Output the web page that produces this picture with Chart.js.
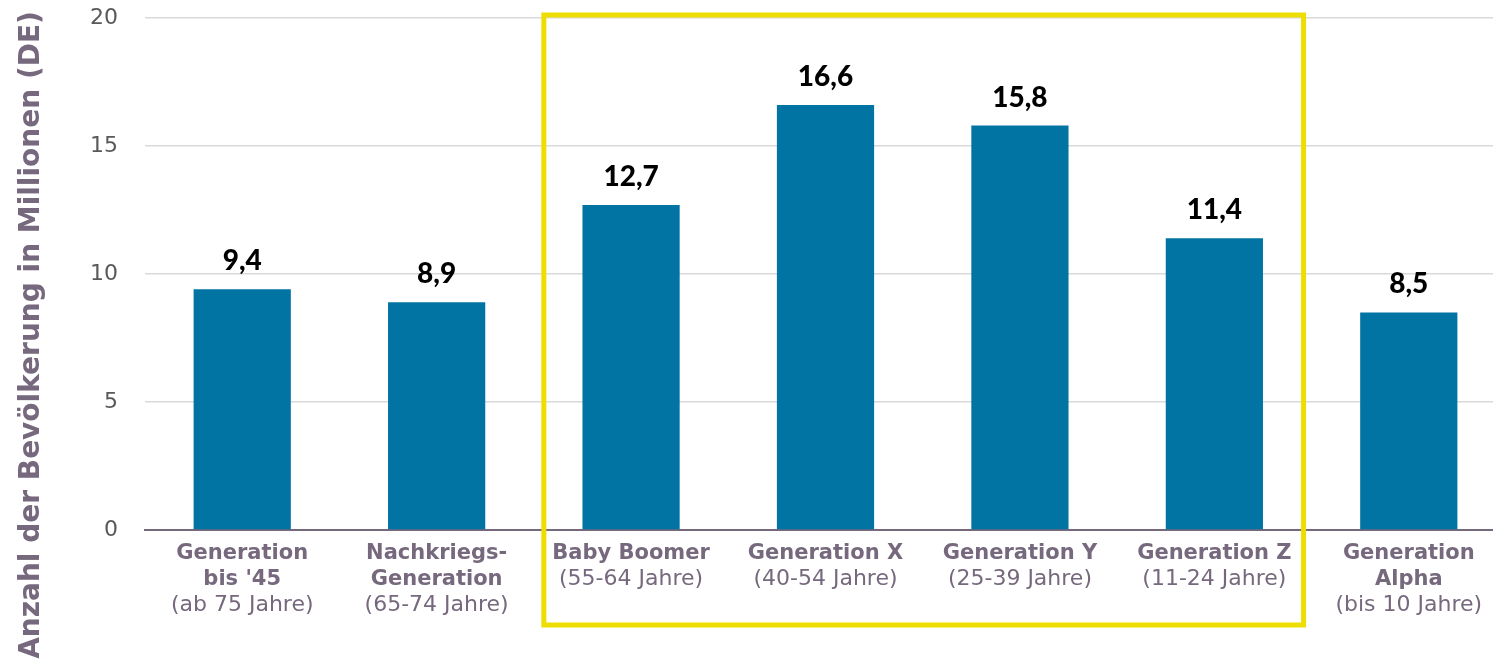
<!DOCTYPE html>
<html>
<head>
<meta charset="utf-8">
<script src="https://cdn.jsdelivr.net/npm/chart.js@4.4.1/dist/chart.umd.min.js"></script>
<style>
  html, body { margin: 0; padding: 0; background: #ffffff; overflow: hidden; }
  #wrap { width: 1506px; height: 661px; }
</style>
</head>
<body>
<div id="wrap"><canvas id="c" width="1506" height="661"></canvas></div>
<script>
// ---- data ----
const labelBold = [
  ["Generation", "bis '45"],
  ["Nachkriegs-", "Generation"],
  ["Baby Boomer"],
  ["Generation X"],
  ["Generation Y"],
  ["Generation Z"],
  ["Generation", "Alpha"]
];
const labelAge = [
  "(ab 75 Jahre)",
  "(65-74 Jahre)",
  "(55-64 Jahre)",
  "(40-54 Jahre)",
  "(25-39 Jahre)",
  "(11-24 Jahre)",
  "(bis 10 Jahre)"
];
const values = [9.4, 8.9, 12.7, 16.6, 15.8, 11.4, 8.5];
const yMin = 0;
const yMax = 20;
const yStep = 5;
const yTitle = "Anzahl der Bevölkerung in Millionen (DE)";
const highlightFirst = 2;
const highlightLast = 5;

// ---- styles ----
const barColor = "#0274a3";
const axisColor = "#76687d";
const gridColor = "#d9d9d9";
const tickColor = "#595959";
const yellow = "#eedd00";

const labels = labelBold.map((b, i) => b.concat([labelAge[i]]));

const fmt = v => v.toFixed(1).replace(".", ",");

const dataLabelPlugin = {
  id: "dataLabels",
  afterDatasetsDraw(chart) {
    const ctx = chart.ctx;
    const meta = chart.getDatasetMeta(0);
    ctx.save();
    ctx.font = "900 28px Lato";
    ctx.fillStyle = "#000000";
    ctx.textAlign = "center";
    ctx.textBaseline = "middle";
    meta.data.forEach((el, i) => {
      ctx.fillText(fmt(chart.data.datasets[0].data[i]), el.x, el.y - 28);
    });
    ctx.restore();
  }
};

const xLabelPlugin = {
  id: "xLabels",
  afterDraw(chart) {
    const ctx = chart.ctx;
    const xs = chart.scales.x;
    const base = chart.chartArea.bottom + 24;
    const lh = 25.5;
    ctx.save();
    ctx.textAlign = "center";
    ctx.textBaseline = "middle";
    ctx.fillStyle = axisColor;
    labelBold.forEach((lines, i) => {
      const x = xs.getPixelForValue(i);
      let y = base;
      ctx.font = "bold 21px 'DejaVu Sans'";
      lines.forEach(t => { ctx.fillText(t, x, y); y += lh; });
      ctx.font = "22px 'DejaVu Sans'";
      ctx.fillText(labelAge[i], x, y);
    });
    ctx.restore();
  }
};

const yTitlePlugin = {
  id: "yTitle",
  afterDraw(chart) {
    const ctx = chart.ctx;
    ctx.save();
    ctx.translate(32, 335);
    ctx.rotate(-Math.PI / 2);
    ctx.font = "bold 28px 'DejaVu Sans'";
    ctx.fillStyle = axisColor;
    ctx.textAlign = "center";
    ctx.textBaseline = "middle";
    ctx.fillText(yTitle, 0, 0);
    ctx.restore();
  }
};

const highlightPlugin = {
  id: "highlight",
  afterDraw(chart) {
    const ctx = chart.ctx;
    const xs = chart.scales.x;
    const ys = chart.scales.y;
    const left = (xs.getPixelForValue(highlightFirst - 1) + xs.getPixelForValue(highlightFirst)) / 2 + 10;
    const right = (xs.getPixelForValue(highlightLast) + xs.getPixelForValue(highlightLast + 1)) / 2 - 8;
    const top = ys.getPixelForValue(yMax) - 3;
    const bottom = chart.chartArea.bottom + 95;
    ctx.save();
    ctx.strokeStyle = yellow;
    ctx.lineWidth = 5;
    ctx.strokeRect(left, top, right - left, bottom - top);
    ctx.restore();
  }
};

new Chart(document.getElementById("c"), {
  type: "bar",
  data: {
    labels: labels,
    datasets: [{
      data: values,
      backgroundColor: barColor,
      borderWidth: 0,
      barPercentage: 0.5,
      categoryPercentage: 1.0
    }]
  },
  options: {
    responsive: false,
    animation: false,
    layout: { padding: { top: 18, right: 0, left: 0, bottom: 0 } },
    plugins: {
      legend: { display: false },
      tooltip: { enabled: false },
      title: { display: false }
    },
    scales: {
      x: {
        ticks: { display: false },
        grid: { display: false },
        border: { display: true, color: axisColor, width: 2 },
        afterFit(scale) { scale.height = 131; }
      },
      y: {
        min: yMin,
        max: yMax,
        ticks: {
          stepSize: yStep,
          color: tickColor,
          font: { family: "'DejaVu Sans'", size: 22 },
          padding: 27
        },
        grid: {
          color: gridColor,
          lineWidth: 1.5,
          drawTicks: false
        },
        border: { display: false },
        title: { display: false },
        afterFit(scale) {
          scale.width = 145;
          scale.paddingTop = 0;
          scale.paddingBottom = 0;
        }
      }
    }
  },
  plugins: [dataLabelPlugin, xLabelPlugin, highlightPlugin, yTitlePlugin]
});
</script>
</body>
</html>
